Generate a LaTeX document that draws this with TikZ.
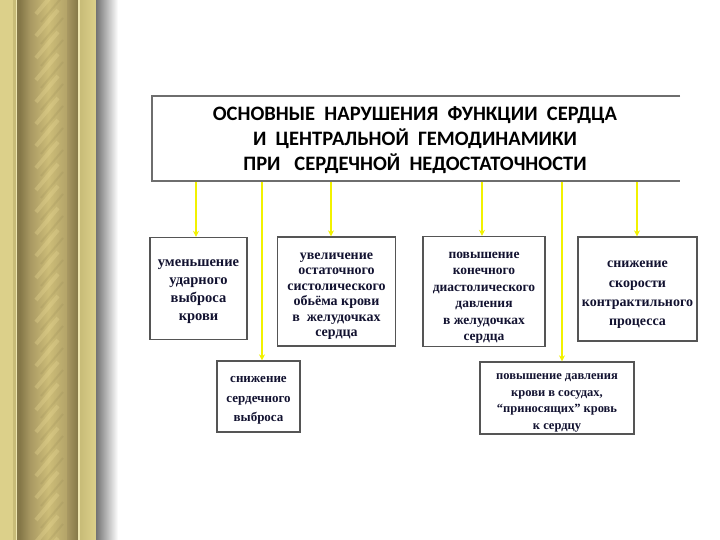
\documentclass[tikz,border=0pt]{standalone}
\usepackage{fontspec}
\setmainfont{Liberation Serif}
\newfontfamily\titlefont{Carlito}
\usetikzlibrary{arrows.meta,calc}
\definecolor{gl}{HTML}{DCD08A}
\definecolor{gm}{HTML}{C8BC78}
\definecolor{gline}{HTML}{EEE6B0}
\definecolor{gd}{HTML}{857848}
\definecolor{go}{HTML}{A89862}
\definecolor{gmid}{HTML}{CDBD78}
\definecolor{ghi}{HTML}{E6D692}
\definecolor{boxgray}{HTML}{555555}
\definecolor{topgray}{HTML}{6E6E6E}
\definecolor{txt}{HTML}{121230}
\definecolor{yel}{HTML}{F2F200}
\begin{document}
\begin{tikzpicture}[x=1pt,y=-1pt,
  box/.style={draw=boxgray,line width=1.3pt,fill=white,inner sep=0pt},
  boxtext/.style={align=center,inner sep=0pt,text=txt},
  arr/.style={draw=yel,line width=2pt,-{Stealth[length=6pt,width=6pt]}}]
\useasboundingbox (0,0) rectangle (720,540);
\fill[white] (0,0) rectangle (720,540);
% decorative column
\fill[gl] (0,0) rectangle (13,540);
\fill[gm] (13,0) rectangle (16,540);
\fill[gline] (16,0) rectangle (17,540);
\fill[gd] (17,0) rectangle (20,540);
\shade[left color=gd,right color=go] (20,0) rectangle (30,540);
\shade[left color=go,right color=go!70!gmid,middle color=gmid] (30,0) rectangle (67,540);
\begin{scope}
\clip (30,0) rectangle (67,540);
\foreach \yy in {0,22,...,560}{
  \draw[ghi,line width=4pt,opacity=.35] (36,\yy+14) -- (58,\yy-12);
  \draw[gd,line width=2pt,opacity=.15] (41,\yy+22) -- (63,\yy-4);
}
\end{scope}
\shade[left color=go,right color=gd] (67,0) rectangle (78,540);
\fill[gline] (78,0) rectangle (80,540);
\shade[left color=gm,right color=gl] (80,0) rectangle (96,540);
\shade[left color=black!55,right color=white] (96,0) rectangle (118,540);
% title box
\node[inner sep=0pt,minimum width=528pt,minimum height=85pt] (top) at (416,138.5) {};
\node[boxtext,text=black,font={\titlefont\bfseries\fontsize{20.5}{25}\selectfont}] (title) at ($(top.center)+(-1,2)$)
  {ОСНОВНЫЕ~ НАРУШЕНИЯ~ ФУНКЦИИ~ СЕРДЦА\\И~ ЦЕНТРАЛЬНОЙ~ ГЕМОДИНАМИКИ\\ПРИ~~ СЕРДЕЧНОЙ~ НЕДОСТАТОЧНОСТИ};
\draw[topgray,line width=1.6pt] (top.north east) -- (top.north west) -- (top.south west) -- (top.south east);
% boxes
\node[box,minimum width=97pt,minimum height=102pt] (b1) at (198.5,288.5) {};
\node[box,minimum width=118pt,minimum height=109pt] (b2) at (336.5,291.5) {};
\node[box,minimum width=122pt,minimum height=110pt] (b3) at (484,291.5) {};
\node[box,minimum width=119pt,minimum height=104pt] (b4) at (637.5,289) {};
\node[box,minimum width=83pt,minimum height=71pt] (b5) at (258.5,396.5) {};
\node[box,minimum width=154pt,minimum height=72pt] (b6) at (557,398) {};
% box texts
\node[boxtext,font={\bfseries\fontsize{14.5}{18}\selectfont}] (t1) at ($(b1.center)+(0,3.5)$)
  {уменьшение\\ударного\\выброса\\крови};
\node[boxtext,font={\bfseries\fontsize{14}{15.5}\selectfont}] (t2) at ($(b2.center)+(0,4.5)$)
  {увеличение\\остаточного\\систолического\\обьёма крови\\в~ желудочках\\сердца};
\node[boxtext,font={\bfseries\fontsize{13.5}{16.5}\selectfont}] (t3) at ($(b3.center)+(0,6.5)$)
  {повышение\\конечного\\диастолического\\давления\\в желудочках\\сердца};
\node[boxtext,font={\bfseries\fontsize{14}{19.3}\selectfont}] (t4) at ($(b4.center)+(0,6)$)
  {снижение\\скорости\\контрактильного\\процесса};
\node[boxtext,font={\bfseries\fontsize{13}{19.5}\selectfont}] (t5) at ($(b5.center)+(0,4)$)
  {снижение\\сердечного\\выброса};
\node[boxtext,font={\bfseries\fontsize{12.5}{16.5}\selectfont}] (t6) at ($(b6.center)+(0,5)$)
  {повышение давления\\крови в сосудах,\\“приносящих” кровь\\к сердцу};
% arrows
\coordinate (s1) at (196,182);
\coordinate (s2) at (262,182);
\coordinate (s3) at (331,182);
\coordinate (s4) at (482,182);
\coordinate (s5) at (562,182);
\coordinate (s6) at (637,182);
\draw[arr] (s1) -- (s1 |- b1.north);
\draw[arr] (s2) -- (s2 |- b5.north);
\draw[arr] (s3) -- (s3 |- b2.north);
\draw[arr] (s4) -- (s4 |- b3.north);
\draw[arr] (s5) -- (s5 |- b6.north);
\draw[arr] (s6) -- (s6 |- b4.north);
\end{tikzpicture}
\end{document}
